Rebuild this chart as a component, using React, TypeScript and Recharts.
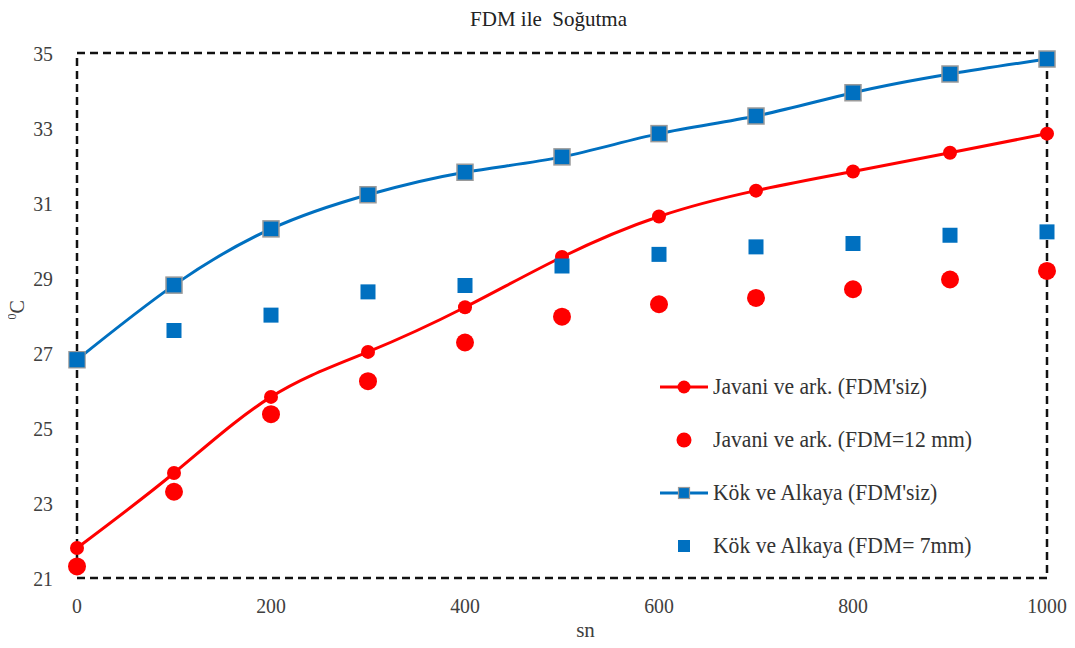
import React from "react";
import { ComposedChart, Line, Scatter, XAxis, YAxis, ReferenceArea } from "recharts";

// Time (sn) and temperature (°C) series
const times = [0, 100, 200, 300, 400, 500, 600, 700, 800, 900, 1000];
const javaniBase = [21.8, 23.8, 25.83, 27.03, 28.22, 29.56, 30.64, 31.33, 31.84, 32.34, 32.85];
const javaniFdm12 = [21.31, 23.3, 25.37, 26.25, 27.28, 27.97, 28.3, 28.47, 28.7, 28.96, 29.19];
const kokBase = [26.82, 28.81, 30.31, 31.22, 31.82, 32.23, 32.85, 33.32, 33.94, 34.44, 34.84];
const kokFdm7 = [26.82, 27.6, 28.01, 28.63, 28.8, 29.32, 29.63, 29.83, 29.92, 30.14, 30.23];

const xTicks = [0, 200, 400, 600, 800, 1000];
const yTicks = [21, 23, 25, 27, 29, 31, 33, 35];

const seriesNames = [
  "Javani ve ark. (FDM'siz)",
  "Javani ve ark. (FDM=12 mm)",
  "Kök ve Alkaya (FDM'siz)",
  "Kök ve Alkaya (FDM= 7mm)",
];

const RED = "#FF0000";
const BLUE = "#0070C0";
const FONT = "Liberation Serif, DejaVu Serif, serif";
const TEXT = "#404040";

const rows = times.map((t, i) => ({
  x: t,
  javaniBase: javaniBase[i],
  javaniFdm12: javaniFdm12[i],
  kokBase: kokBase[i],
  kokFdm7: kokFdm7[i],
}));

const W = 1067;
const H = 640;

// narrow serif tick labels
const XTick = (props: any) => {
  const { x, y, payload } = props;
  return (
    <g transform={`translate(${x},${y})`}>
      <text
        transform="scale(0.9,1)"
        textAnchor="middle"
        dy="0.71em"
        fontFamily={FONT}
        fontSize={22}
        fill={TEXT}
      >
        {payload.value}
      </text>
    </g>
  );
};

const YTick = (props: any) => {
  const { x, y, payload } = props;
  return (
    <g transform={`translate(${x},${y})`}>
      <text
        transform="scale(0.9,1)"
        textAnchor="end"
        dy="0.35em"
        fontFamily={FONT}
        fontSize={22}
        fill={TEXT}
      >
        {payload.value}
      </text>
    </g>
  );
};

const redDot = (props: any) => {
  const { cx, cy, index } = props;
  if (cx == null || cy == null) return null;
  return <circle key={`rd-${index}`} cx={cx} cy={cy} r={7} fill={RED} />;
};

const blueSquare = (props: any) => {
  const { cx, cy, index } = props;
  if (cx == null || cy == null) return null;
  return (
    <rect
      key={`bs-${index}`}
      x={cx - 8}
      y={cy - 8}
      width={16}
      height={16}
      fill={BLUE}
      stroke="#9a9a9a"
      strokeWidth={1.5}
    />
  );
};

const bigRedCircle = (props: any) => {
  const { cx, cy } = props;
  if (cx == null || cy == null) return <g />;
  return <circle cx={cx} cy={cy} r={9} fill={RED} />;
};

const plainBlueSquare = (props: any) => {
  const { cx, cy } = props;
  if (cx == null || cy == null) return <g />;
  return <rect x={cx - 7.5} y={cy - 7.5} width={15} height={15} fill={BLUE} />;
};

const legendIcon = (i: number) => {
  if (i === 0)
    return (
      <svg width={52} height={20}>
        <line x1={2} y1={10} x2={50} y2={10} stroke={RED} strokeWidth={3} />
        <circle cx={26} cy={10} r={6.5} fill={RED} />
      </svg>
    );
  if (i === 1)
    return (
      <svg width={52} height={20}>
        <circle cx={26} cy={10} r={7.5} fill={RED} />
      </svg>
    );
  if (i === 2)
    return (
      <svg width={52} height={20}>
        <line x1={2} y1={10} x2={50} y2={10} stroke={BLUE} strokeWidth={3} />
        <rect x={20.5} y={4.5} width={11} height={11} fill={BLUE} stroke="#9a9a9a" strokeWidth={1.2} />
      </svg>
    );
  return (
    <svg width={52} height={20}>
      <rect x={20} y={4} width={12} height={12} fill={BLUE} />
    </svg>
  );
};

const ChartLegend = () => (
  <div
    style={{
      position: "absolute",
      left: 650,
      top: 352,
      fontFamily: FONT,
      fontSize: 23,
      color: "#333",
    }}
  >
    {seriesNames.map((name, i) => (
      <div
        key={name}
        style={{ display: "flex", alignItems: "center", height: 53, whiteSpace: "nowrap" }}
      >
        {legendIcon(i)}
        <span
          style={{
            marginLeft: 3,
            display: "inline-block",
            transform: "scaleX(0.94)",
            transformOrigin: "left center",
          }}
        >
          {name}
        </span>
      </div>
    ))}
  </div>
);

export default function App() {
  return (
    <div style={{ position: "relative", width: W, height: H, background: "#fff" }}>
      <div
        style={{
          position: "absolute",
          left: 0,
          width: W,
          top: -1,
          textAlign: "center",
          fontFamily: FONT,
          fontSize: 21,
          color: "#222",
          whiteSpace: "pre",
          paddingLeft: 7,
        }}
      >
        {"FDM ile  Soğutma"}
      </div>
      <ComposedChart
        width={W}
        height={H}
        data={rows}
        margin={{ top: 45, right: 28, bottom: 40, left: 29 }}
      >
        <XAxis
          type="number"
          dataKey="x"
          domain={[0, 1000]}
          ticks={xTicks}
          axisLine={false}
          tickLine={false}
          tickSize={0}
          tickMargin={19}
          height={30}
          tick={XTick}
        />
        <YAxis
          type="number"
          domain={[21, 35]}
          ticks={yTicks}
          axisLine={false}
          tickLine={false}
          tickSize={0}
          tickMargin={24}
          width={40}
          tick={YTick}
        />
        <ReferenceArea
          x1={0}
          x2={1000}
          y1={21}
          y2={35}
          fill="none"
          fillOpacity={0}
          stroke="#111"
          strokeWidth={2.5}
          strokeDasharray="8 5"
          ifOverflow="visible"
        />
        <Line
          type="natural"
          dataKey="javaniBase"
          name={seriesNames[0]}
          stroke={RED}
          strokeWidth={3}
          dot={redDot}
          activeDot={false}
          isAnimationActive={false}
        />
        <Scatter
          dataKey="javaniFdm12"
          name={seriesNames[1]}
          fill={RED}
          shape={bigRedCircle}
          isAnimationActive={false}
        />
        <Line
          type="natural"
          dataKey="kokBase"
          name={seriesNames[2]}
          stroke={BLUE}
          strokeWidth={3}
          dot={blueSquare}
          activeDot={false}
          isAnimationActive={false}
        />
        <Scatter
          dataKey="kokFdm7"
          name={seriesNames[3]}
          fill={BLUE}
          shape={plainBlueSquare}
          isAnimationActive={false}
        />
      </ComposedChart>
      <ChartLegend />
      <div
        style={{
          position: "absolute",
          left: -6,
          top: 290,
          width: 30,
          textAlign: "center",
          transform: "rotate(-90deg)",
          transformOrigin: "center",
          fontFamily: FONT,
          fontSize: 20,
          color: TEXT,
        }}
      >
        <sup style={{ fontSize: 12 }}>0</sup>C
      </div>
      <div
        style={{
          position: "absolute",
          left: 0,
          width: W,
          top: 610,
          paddingLeft: 44,
          textAlign: "center",
          fontFamily: FONT,
          fontSize: 21,
          color: TEXT,
        }}
      >
        sn
      </div>
    </div>
  );
}
